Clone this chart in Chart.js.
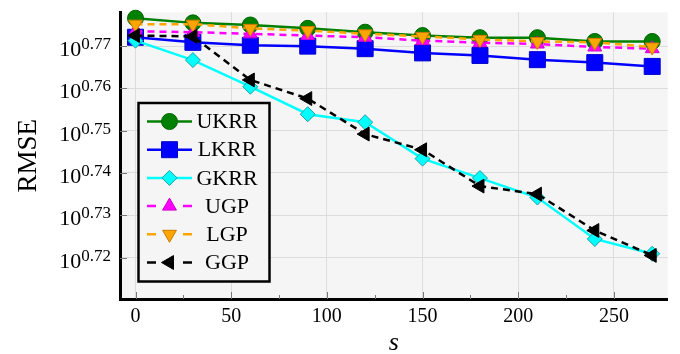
<!DOCTYPE html>
<html lang="en">
<head>
<meta charset="UTF-8">
<title>RMSE vs s</title>
<script src="https://cdn.jsdelivr.net/npm/chart.js"></script>
<style>
  body { margin: 0; background: #fff; }
  #wrap { width: 680px; height: 354px; }
</style>
</head>
<body>
<div id="wrap"><canvas id="rmseChart" width="680" height="354"></canvas></div>
<script>
  // x values
  const sValues = [0, 30, 60, 90, 120, 150, 180, 210, 240, 270];
  // log10(RMSE) per method
  const ukrr = [0.7766, 0.7755, 0.7750, 0.7742, 0.7733, 0.7725, 0.7720, 0.7720, 0.7711, 0.7711];
  const lkrr = [0.7721, 0.7709, 0.7702, 0.7700, 0.7694, 0.7684, 0.7678, 0.7668, 0.7661, 0.7652];
  const gkrr = [0.7713, 0.7667, 0.7604, 0.7539, 0.7520, 0.7434, 0.7388, 0.7342, 0.7244, 0.7209];
  const ugp  = [0.7735, 0.7733, 0.7729, 0.7725, 0.7721, 0.7713, 0.7708, 0.7705, 0.7698, 0.7694];
  const lgp  = [0.7752, 0.7752, 0.7742, 0.7737, 0.7729, 0.7723, 0.7716, 0.7711, 0.7709, 0.7698];
  const ggp  = [0.7725, 0.7723, 0.7620, 0.7576, 0.7492, 0.7455, 0.7369, 0.7350, 0.7264, 0.7205];

  const seriesNames = ['UKRR', 'LKRR', 'GKRR', 'UGP', 'LGP', 'GGP'];
  const seriesData = [ukrr, lkrr, gkrr, ugp, lgp, ggp];

  // tick labels
  const yTickExps = [0.72, 0.73, 0.74, 0.75, 0.76, 0.77];
  const xTicks = [0, 50, 100, 150, 200, 250];
  const xMinorTicks = [25, 75, 125, 175, 225];

  const FONT = '"Liberation Serif", "Times New Roman", serif';

  // line / marker looks, one per series
  const looks = [
    { color: 'green',   style: 'circle',   rot: 0,   r: 8,    edge: '#006400', dash: [] },
    { color: '#0000ff', style: 'rect',     rot: 0,   r: 11.3, edge: '#0000cc', dash: [] },
    { color: '#00ffff', style: 'rectRot',  rot: 0,   r: 7.5,  edge: '#20a0a0', dash: [] },
    { color: '#ff00ff', style: 'triangle', rot: 0,   r: 8,    edge: '#d000d0', dash: [7, 5] },
    { color: '#ffa500', style: 'triangle', rot: 180, r: 8,    edge: '#cc7a00', dash: [7, 5] },
    { color: '#000000', style: 'triangle', rot: -90, r: 8,    edge: '#000000', dash: [7, 5] }
  ];

  const datasets = seriesNames.map((name, i) => ({
    label: name,
    data: sValues.map((s, k) => ({ x: s, y: seriesData[i][k] })),
    borderColor: looks[i].color,
    borderWidth: 2.5,
    borderDash: looks[i].dash,
    pointStyle: looks[i].style,
    pointRotation: looks[i].rot,
    pointRadius: looks[i].r,
    pointBackgroundColor: looks[i].color,
    pointBorderColor: looks[i].edge,
    pointBorderWidth: 1,
    tension: 0,
    clip: false,
    order: 5 - i  // later series drawn on top
  }));

  const decor = {
    id: 'decor',
    beforeDraw(chart) {
      const { ctx, chartArea: a } = chart;
      ctx.save();
      ctx.fillStyle = '#f5f5f5';
      ctx.fillRect(a.left, a.top, a.right - a.left, a.bottom - a.top);
      ctx.restore();
    },
    beforeDatasetsDraw(chart) {
      // inward tick marks
      const { ctx, chartArea: a, scales } = chart;
      ctx.save();
      ctx.strokeStyle = '#777';
      ctx.lineWidth = 1;
      ctx.beginPath();
      xTicks.forEach(v => {
        const x = Math.round(scales.x.getPixelForValue(v)) + 0.5;
        ctx.moveTo(x, a.bottom); ctx.lineTo(x, a.bottom - 7);
      });
      xMinorTicks.forEach(v => {
        const x = Math.round(scales.x.getPixelForValue(v)) + 0.5;
        ctx.moveTo(x, a.bottom); ctx.lineTo(x, a.bottom - 4);
      });
      yTickExps.forEach(v => {
        const y = Math.round(scales.y.getPixelForValue(v)) + 0.5;
        ctx.moveTo(a.left, y); ctx.lineTo(a.left + 7, y);
      });
      ctx.stroke();
      ctx.restore();
    },
    afterDraw(chart) {
      const { ctx, chartArea: a, scales } = chart;
      ctx.save();
      ctx.fillStyle = '#000';

      // y tick labels 10^e
      ctx.textAlign = 'right';
      ctx.textBaseline = 'alphabetic';
      yTickExps.forEach(v => {
        const y = scales.y.getPixelForValue(v);
        const exp = v.toFixed(2);
        ctx.font = '17px ' + FONT;
        const ew = ctx.measureText(exp).width;
        ctx.fillText(exp, 111, y + 3);
        ctx.font = '22px ' + FONT;
        ctx.fillText('10', 111 - ew, y + 10);
      });

      // x tick labels
      ctx.textAlign = 'center';
      ctx.font = '20px ' + FONT;
      xTicks.forEach(v => {
        ctx.fillText(String(v), scales.x.getPixelForValue(v), 322);
      });

      // axis titles
      ctx.font = 'italic 26px ' + FONT;
      ctx.fillText('s', (a.left + a.right) / 2, 350);
      ctx.save();
      ctx.translate(36, (a.top + a.bottom) / 2);
      ctx.rotate(-Math.PI / 2);
      ctx.font = '27px ' + FONT;
      ctx.fillText('RMSE', 0, 0);
      ctx.restore();

      // legend box
      const bx = 138.5, by = 103, bw = 131, bh = 178.5;
      ctx.fillStyle = '#f5f5f5';
      ctx.fillRect(bx, by, bw, bh);
      ctx.strokeStyle = '#000';
      ctx.lineWidth = 2.5;
      ctx.strokeRect(bx, by, bw, bh);

      chart.data.datasets.forEach((ds, i) => {
        const ry = 121.5 + i * 28.2;
        ctx.strokeStyle = ds.borderColor;
        ctx.lineWidth = 2.5;
        ctx.beginPath();
        if (ds.borderDash.length) {
          ctx.moveTo(147, ry); ctx.lineTo(156, ry);
          ctx.moveTo(183, ry); ctx.lineTo(192, ry);
        } else {
          ctx.moveTo(147, ry); ctx.lineTo(192, ry);
        }
        ctx.stroke();
        ctx.fillStyle = ds.pointBackgroundColor;
        ctx.strokeStyle = ds.pointBorderColor;
        ctx.lineWidth = 1;
        Chart.helpers.drawPoint(ctx, {
          pointStyle: ds.pointStyle,
          rotation: ds.pointRotation,
          radius: ds.pointRadius,
          borderWidth: 1
        }, 169.5, ry);
        ctx.fillStyle = '#000';
        ctx.font = '22px ' + FONT;
        ctx.textAlign = 'center';
        ctx.textBaseline = 'middle';
        ctx.fillText(ds.label, 227, ry + 1);
      });
      ctx.restore();
    }
  };

  new Chart(document.getElementById('rmseChart'), {
    type: 'line',
    data: { datasets },
    options: {
      responsive: false,
      animation: false,
      layout: { padding: { top: 10, right: 7, left: 0, bottom: 0 } },
      plugins: { legend: { display: false }, tooltip: { enabled: false } },
      scales: {
        x: {
          type: 'linear',
          min: -8.1,
          max: 278.1,
          afterBuildTicks: s => { s.ticks = xTicks.map(v => ({ value: v })); },
          afterFit: s => { s.height = 55; },
          ticks: { display: false },
          grid: { color: '#dcdcdc', drawTicks: false },
          border: { color: '#000', width: 3 }
        },
        y: {
          type: 'linear',
          min: 0.7102,
          max: 0.778,
          afterBuildTicks: s => { s.ticks = yTickExps.map(v => ({ value: v })); },
          afterFit: s => { s.width = 120; },
          ticks: { display: false },
          grid: { color: '#dcdcdc', drawTicks: false },
          border: { color: '#000', width: 3 }
        }
      }
    },
    plugins: [decor]
  });
</script>
</body>
</html>
